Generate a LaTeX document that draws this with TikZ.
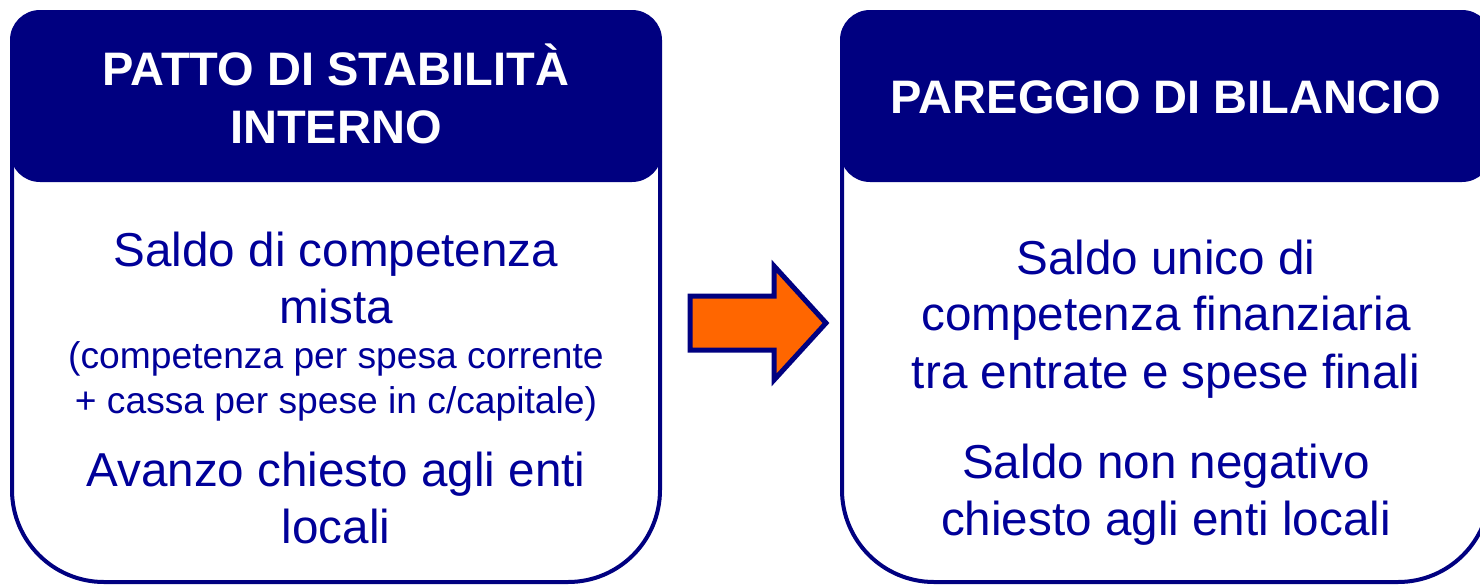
\documentclass[tikz,border=0pt]{standalone}
\usepackage{fontspec}
\setmainfont{Liberation Sans}
\usetikzlibrary{positioning}
\definecolor{pattoblue}{RGB}{0,0,128}
\definecolor{textblue}{RGB}{0,0,153}
\definecolor{arroworange}{RGB}{255,102,0}

\begin{document}
\begin{tikzpicture}[x=0.5pt,y=-0.5pt,
    head box/.style={fill=pattoblue,rounded corners=15pt},
    body box/.style={draw=pattoblue,line width=2pt,fill=white,rounded corners=46pt},
    head text/.style={text=white,font=\fontsize{23.5pt}{29pt}\selectfont\bfseries,anchor=base,inner sep=0pt},
    body text/.style={text=textblue,font=\fontsize{23.8pt}{28.5pt}\selectfont,anchor=base,inner sep=0pt},
    small text/.style={text=textblue,font=\fontsize{18.6pt}{22.5pt}\selectfont,anchor=base,inner sep=0pt}]
    \useasboundingbox (0,0) rectangle (1480,585);
    \clip (0,0) rectangle (1480,585);
    % boxes
      \draw[body box] (12,60) rectangle (660,582);
      \fill[head box] (10,10) rectangle (662,182);
      \draw[body box] (842,60) rectangle (1490,582);
      \fill[head box] (840,10) rectangle (1492,182);
    % arrow
      \draw[fill=arroworange,draw=pattoblue,line width=2.5pt,miter limit=4]
        (690,296) -- (774,296) -- (774,266) -- (826,323) -- (774,380) -- (774,350) -- (690,350) -- cycle;
    % headers
      \node[head text] (patto1) at (336,85) {PATTO DI STABILITÀ};
      \node[head text] (patto2) at (336,143) {INTERNO};
      \node[head text] (pareggio) at (1166,113) {PAREGGIO DI BILANCIO};
    % left text
      \node[body text] (l1) at (336,266) {Saldo di competenza};
      \node[body text] (l2) at (336,323) {mista};
      \node[small text] (l3) at (336,368) {(competenza per spesa corrente};
      \node[small text] (l4) at (336,413) {+ cassa per spese in c/capitale)};
      \node[body text] (l5) at (336,486) {Avanzo chiesto agli enti};
      \node[body text] (l6) at (336,543) {locali};
    % right text
      \node[body text] (r1) at (1166,274) {Saldo unico di};
      \node[body text] (r2) at (1166,330) {competenza finanziaria};
      \node[body text] (r3) at (1166,388) {tra entrate e spese finali};
      \node[body text] (r4) at (1166,478) {Saldo non negativo};
      \node[body text] (r5) at (1166,535) {chiesto agli enti locali};
    \end{tikzpicture}
\end{document}
